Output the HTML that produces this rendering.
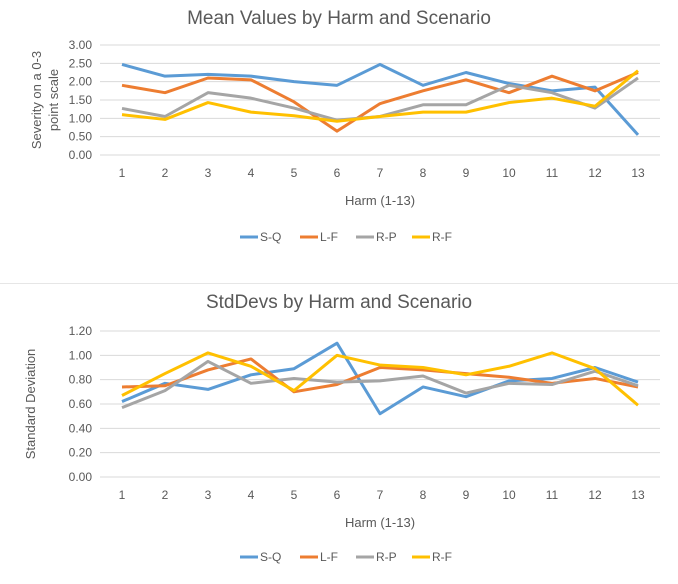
<!DOCTYPE html>
<html><head><meta charset="utf-8"><style>
body{margin:0;background:#fff;width:678px;height:584px;overflow:hidden;font-family:"Liberation Sans",sans-serif}
svg{display:block}
</style></head><body>
<svg id="svg" width="678" height="584"></svg>
<script>
const harms=['1','2','3','4','5','6','7','8','9','10','11','12','13'];
const seriesNames=['S-Q','L-F','R-P','R-F'];
const colors=['#5B9BD5','#ED7D31','#A5A5A5','#FFC000'];
const meanSQ=[2.47,2.15,2.2,2.15,2.0,1.9,2.47,1.9,2.25,1.95,1.75,1.85,0.55];
const meanLF=[1.9,1.7,2.1,2.05,1.45,0.65,1.4,1.75,2.05,1.7,2.15,1.75,2.25];
const meanRP=[1.27,1.05,1.7,1.55,1.28,0.95,1.05,1.37,1.37,1.9,1.7,1.28,2.1];
const meanRF=[1.1,0.97,1.43,1.17,1.07,0.92,1.05,1.17,1.17,1.43,1.55,1.33,2.3];
const sdSQ=[0.62,0.77,0.72,0.84,0.89,1.10,0.52,0.74,0.66,0.79,0.81,0.90,0.78];
const sdLF=[0.74,0.75,0.88,0.97,0.70,0.76,0.90,0.88,0.85,0.82,0.77,0.81,0.74];
const sdRP=[0.57,0.71,0.95,0.77,0.81,0.78,0.79,0.83,0.69,0.77,0.76,0.87,0.75];
const sdRF=[0.67,0.85,1.02,0.91,0.71,1.0,0.92,0.90,0.84,0.91,1.02,0.89,0.59];
const meanTicks=['0.00','0.50','1.00','1.50','2.00','2.50','3.00'];
const sdTicks=['0.00','0.20','0.40','0.60','0.80','1.00','1.20'];

const NS='http://www.w3.org/2000/svg';
const svg=document.getElementById('svg');
function mk(tag,attrs,parent){const e=document.createElementNS(NS,tag);for(const k in attrs)e.setAttribute(k,attrs[k]);(parent||svg).appendChild(e);return e;}

function chart(cfg){
  const g=mk('g',{});
  
  
  const yMax=parseFloat(cfg.ticks[cfg.ticks.length-1]);
  const ys=v=>cfg.y0-(v/yMax)*(cfg.y0-cfg.y1);
  const xs=i=>122+i*(638-122)/(harms.length-1);
  const t=mk('text',{x:339,y:cfg.top+24,'text-anchor':'middle','font-size':19,fill:'#595959'},g);
  t.textContent=cfg.title;
  
  
  cfg.ticks.forEach(tk=>{
    const y=ys(parseFloat(tk));
    const l=mk('line',{x1:100,x2:660,y1:y,y2:y,stroke:'#D9D9D9','stroke-width':1},g);
    
    
    const tx=mk('text',{x:92,y:y+4,'text-anchor':'end','font-size':12,fill:'#595959'},g);
    tx.textContent=tk;
    
    
  });
  harms.forEach((h,i)=>{
    const tx=mk('text',{x:xs(i),y:cfg.y0+22,'text-anchor':'middle','font-size':12,fill:'#595959'},g);
    tx.textContent=h;
    
    
  });
  const xt=mk('text',{x:380,y:cfg.y0+50,'text-anchor':'middle','font-size':13,fill:'#595959'},g);
  xt.textContent='Harm (1-13)';
  
  
  const cy=(cfg.y0+cfg.y1)/2;
  const yt=mk('text',{transform:`translate(${cfg.ytx},${cy}) rotate(-90)`,'text-anchor':'middle','font-size':13,fill:'#595959'},g);
  cfg.ytitle.forEach((line,k)=>{const s=mk('tspan',{x:0,dy:k?17:0},yt);s.textContent=line;});
  
  
  cfg.data.forEach((arr,si)=>{
    const p=mk('polyline',{points:arr.map((v,i)=>xs(i)+','+ys(v)).join(' '),fill:'none',stroke:colors[si],'stroke-width':3,'stroke-linejoin':'round'},g);
    
    
  });
  const lx=[240,300,356,412];
  seriesNames.forEach((n,si)=>{
    const lg=mk('g',{},g);
    
    
    mk('line',{x1:lx[si],x2:lx[si]+18,y1:cfg.legY,y2:cfg.legY,stroke:colors[si],'stroke-width':3},lg);
    const tx=mk('text',{x:lx[si]+20,y:cfg.legY+4,'font-size':12,fill:'#595959'},lg);
    tx.textContent=n;
  });
}
chart({name:'mean-chart',top:0,title:'Mean Values by Harm and Scenario',ticks:meanTicks,y0:155,y1:45,ytx:41,ytitle:['Severity on a 0-3','point scale'],data:[meanSQ,meanLF,meanRP,meanRF],legY:237});
mk('rect',{x:0,y:283,width:678,height:1,fill:'#E6E6E6'});
chart({name:'stddev-chart',top:284,title:'StdDevs by Harm and Scenario',ticks:sdTicks,y0:477,y1:331,ytx:35,ytitle:['Standard Deviation'],data:[sdSQ,sdLF,sdRP,sdRF],legY:557});
</script>
</body></html>
